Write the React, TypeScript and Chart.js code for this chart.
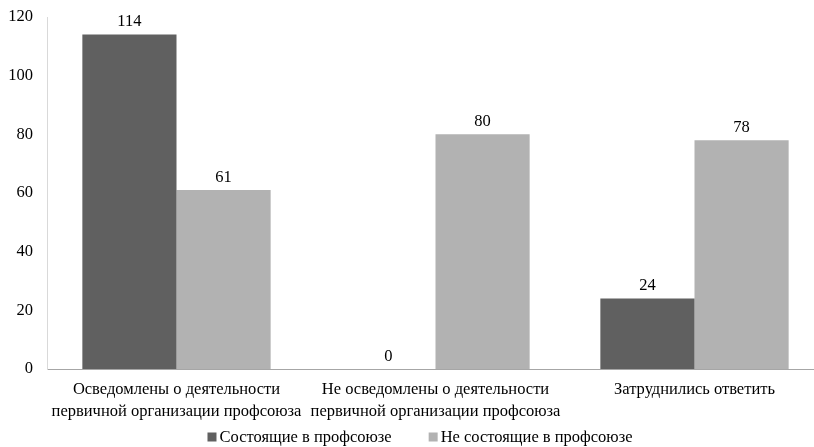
import React, { useEffect, useRef } from "react";
import { Chart, registerables } from "chart.js";

Chart.register(...registerables);

const categories: string[][] = [
  ["Осведомлены о деятельности", "первичной организации профсоюза"],
  ["Не осведомлены о деятельности", "первичной организации профсоюза"],
  ["Затруднились ответить"],
];
const seriesNames = ["Состоящие в профсоюзе", "Не состоящие в профсоюзе"];
const members = [114, 0, 24];
const nonMembers = [61, 80, 78];
const yTicks = [0, 20, 40, 60, 80, 100, 120];
const colors = ["#606060", "#b2b2b2"];

const FONT = "'Liberation Serif', 'Times New Roman', serif";
const FS = 16.5;
const PLOT_TOP = 17;

const fixTop = {
  id: "fixTop",
  afterLayout(chart: any) {
    const y = chart.scales.y;
    if (y && y.top !== PLOT_TOP) {
      y.top = PLOT_TOP;
      y.height = y.bottom - PLOT_TOP;
      y.configure();
      chart.chartArea.top = PLOT_TOP;
      chart.chartArea.height = chart.chartArea.bottom - PLOT_TOP;
    }
  },
};

const valueLabels = {
  id: "valueLabels",
  afterDatasetsDraw(chart: any) {
    const ctx = chart.ctx;
    ctx.save();
    ctx.font = `${FS}px ${FONT}`;
    ctx.fillStyle = "#000";
    ctx.textAlign = "center";
    ctx.textBaseline = "alphabetic";
    chart.data.datasets.forEach((ds: any, i: number) => {
      const meta = chart.getDatasetMeta(i);
      meta.data.forEach((bar: any, j: number) => {
        ctx.fillText(String(ds.data[j]), bar.x, bar.y - 8.5);
      });
    });
    ctx.restore();
  },
};

const customLegend = {
  id: "customLegend",
  afterDraw(chart: any) {
    const ctx = chart.ctx;
    ctx.save();
    ctx.font = `${FS}px ${FONT}`;
    ctx.textBaseline = "middle";
    ctx.textAlign = "left";
    const box = 9;
    const gapBox = 3;
    const gapItem = 37;
    const widths = chart.data.datasets.map(
      (ds: any) => box + gapBox + ctx.measureText(ds.label).width
    );
    const total = widths.reduce((a: number, b: number) => a + b, 0) + gapItem * (widths.length - 1);
    let x = 420 - total / 2;
    const y = chart.height - 10;
    chart.data.datasets.forEach((ds: any, i: number) => {
      ctx.fillStyle = ds.backgroundColor;
      ctx.fillRect(x, y - box / 2, box, box);
      ctx.fillStyle = "#000";
      ctx.fillText(ds.label, x + box + gapBox, y + 1);
      x += widths[i] + gapItem;
    });
    ctx.restore();
  },
};

export default function App() {
  const ref = useRef<HTMLCanvasElement>(null);
  useEffect(() => {
    if (!ref.current) return;
    const chart = new Chart(ref.current, {
      type: "bar",
      data: {
        labels: categories,
        datasets: [
          { label: seriesNames[0], data: members, backgroundColor: colors[0] },
          { label: seriesNames[1], data: nonMembers, backgroundColor: colors[1] },
        ],
      },
      options: {
        animation: false,
        responsive: false,
        maintainAspectRatio: false,
        layout: { autoPadding: false, padding: { top: 11, left: 8, right: 0, bottom: 14 } },
        datasets: {
          bar: { barPercentage: 1, categoryPercentage: 0.727 },
        },
        plugins: {
          legend: { display: false },
          tooltip: { enabled: false },
        },
        scales: {
          x: {
            grid: { display: false, drawTicks: false },
            border: { display: true, color: "#a6a6a6", width: 1 },
            ticks: {
              color: "#000",
              font: { family: FONT, size: FS, lineHeight: 1.333 },
              padding: 10,
              maxRotation: 0,
              autoSkip: false,
            },
          },
          y: {
            min: 0,
            max: 120,
            afterBuildTicks: (axis: any) => {
              axis.ticks = yTicks.map((v) => ({ value: v }));
            },
            afterFit: (axis: any) => {
              axis.width = 39;
            },
            grid: { display: false, drawTicks: false },
            border: { display: true, color: "#d9d9d9", width: 1 },
            ticks: {
              color: "#000",
              font: { family: FONT, size: FS },
              padding: 14,
            },
          },
        },
      },
      plugins: [fixTop, valueLabels, customLegend],
    });
    return () => chart.destroy();
  }, []);
  return (
    <div style={{ position: "absolute", left: 0, top: 0, width: 814, height: 447, overflow: "hidden", background: "#fff" }}>
      <canvas ref={ref} width={824} height={447} style={{ display: "block" }} />
    </div>
  );
}
